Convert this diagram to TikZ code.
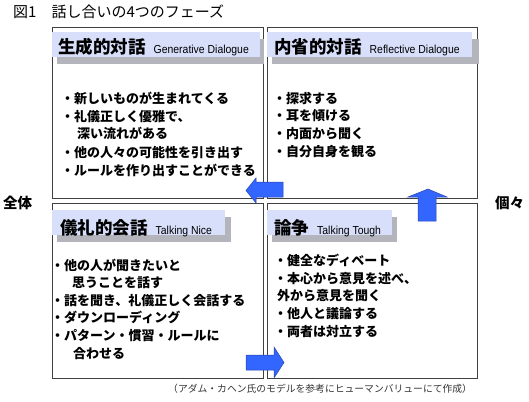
\documentclass[tikz,border=0pt]{standalone}
\usepackage{fontspec}
\setmainfont{Noto Sans CJK JP}
\newfontfamily\en[FakeStretch=0.9]{Liberation Sans}
\definecolor{boxline}{HTML}{404040}
\definecolor{hdrblue}{HTML}{D8DFFA}
\definecolor{shadowgray}{HTML}{B4B4BC}
\definecolor{arrowblue}{HTML}{3366FF}
\definecolor{arrowedge}{HTML}{2A45A8}
\definecolor{foot}{HTML}{333333}
\newcommand{\hdr}[2]{{\fontsize{17.5}{20}\selectfont\bfseries #1}\hspace{8pt}{\en\fontsize{11.6}{13}\selectfont #2}}
\begin{document}
\begin{tikzpicture}[x=1pt,y=-1pt,
  frame/.style={draw=boxline, line width=0.8pt},
  hdrbar/.style={fill=hdrblue},
  shadowbar/.style={fill=shadowgray},
  bigarrow/.style={fill=arrowblue, draw=arrowedge, line width=0.5pt},
  item/.style={anchor=base west, inner sep=0pt, font=\fontsize{13}{15}\selectfont\bfseries},
  hdrtext/.style={anchor=base west, inner sep=0pt},
  side/.style={anchor=base west, inner sep=0pt, font=\fontsize{14.5}{16}\selectfont\bfseries},
]
\useasboundingbox (0,0) rectangle (529,401);

% title
\node[anchor=base west, inner sep=0pt, font=\fontsize{15}{17}\selectfont] (title) at (13,17.5) {図1　話し合いの4つのフェーズ};

% boxes
\draw[frame] (52,27) rectangle (263,198);
\draw[frame] (267,27) rectangle (477,198);
\draw[frame] (52,203) rectangle (263,378);
\draw[frame] (267,203) rectangle (477,378);

% header bars
\fill[shadowbar] (57,39) rectangle (264,64);
\fill[hdrbar] (52,32) rectangle (260,57);
\fill[shadowbar] (272,39) rectangle (479,64);
\fill[hdrbar] (267,32) rectangle (472,57);
\fill[shadowbar] (57,217) rectangle (231,242);
\fill[hdrbar] (52,210) rectangle (225,235);
\fill[shadowbar] (272,217) rectangle (397,242);
\fill[hdrbar] (267,210) rectangle (392,235);

\node[hdrtext] (h1) at (58,54) {\hdr{生成的対話}{Generative Dialogue}};
\node[hdrtext] (h2) at (274,54) {\hdr{内省的対話}{Reflective Dialogue}};
\node[hdrtext] (h3) at (60,234.5) {\hdr{儀礼的会話}{Talking Nice}};
\node[hdrtext] (h4) at (274,234.5) {\hdr{論争}{Talking Tough}};

% top-left items
\node[item] (a1) at (61,103) {・新しいものが生まれてくる};
\node[item] (a2) at (61,121.5) {・礼儀正しく優雅で、};
\node[item] (a3) at (77,138.5) {深い流れがある};
\node[item] (a4) at (61,157) {・他の人々の可能性を引き出す};
\node[item] (a5) at (61,175) {・ルールを作り出すことができる};

% top-right items
\node[item] (b1) at (273,103) {・探求する};
\node[item] (b2) at (273,121) {・耳を傾ける};
\node[item] (b3) at (273,138.5) {・内面から聞く};
\node[item] (b4) at (273,156) {・自分自身を観る};

% bottom-left items
\node[item] (c1) at (51,270) {・他の人が聞きたいと};
\node[item] (c2) at (72,287.5) {思うことを話す};
\node[item] (c3) at (51,305) {・話を聞き、礼儀正しく会話する};
\node[item] (c4) at (51,322.5) {・ダウンローディング};
\node[item] (c5) at (51,340) {・パターン・慣習・ルールに};
\node[item] (c6) at (73,358) {合わせる};

% bottom-right items
\node[item] (d1) at (274,265) {・健全なディベート};
\node[item] (d2) at (274,283) {・本心から意見を述べ、};
\node[item] (d3) at (277,300.5) {外から意見を聞く};
\node[item] (d4) at (274,318.5) {・他人と議論する};
\node[item] (d5) at (274,336) {・両者は対立する};

% side labels
\node[side] (whole) at (3,208.5) {全体};
\node[side] (indiv) at (495,208.5) {個々};

% arrows
\draw[bigarrow] (246,190.5) -- (256,178) -- (256,182) -- (283,182) -- (283,197) -- (256,197) -- (256,203) -- cycle;
\draw[bigarrow] (428,189) -- (447,197) -- (436,197) -- (436,221) -- (418,221) -- (418,197) -- (408,197) -- cycle;
\draw[bigarrow] (284,362.5) -- (274,347) -- (274,355) -- (246,355) -- (246,370) -- (274,370) -- (274,378) -- cycle;

% footer
\node[anchor=base west, inner sep=0pt, text=foot, font=\fontsize{9.8}{11}\selectfont] (src) at (168,392.5) {（アダム・カヘン氏のモデルを参考にヒューマンバリューにて作成）};
\end{tikzpicture}
\end{document}
